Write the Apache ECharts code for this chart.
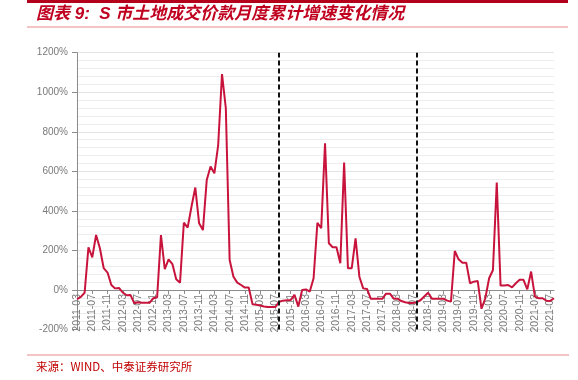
<!DOCTYPE html>
<html>
<head>
<meta charset="utf-8">
<script src="https://cdn.jsdelivr.net/npm/echarts@6/dist/echarts.min.js"></script>
<style>
html, body { margin: 0; padding: 0; background: #fff; }
#chart { width: 578px; height: 380px; }
</style>
</head>
<body>
<div id="chart"></div>
<script>
// 月份：2011-03 ~ 2021-08
let startYear = 2011, startMonth = 3, monthCount = 126;
let months = [];
for (let i = 0; i < monthCount; i++) {
	let m = startMonth - 1 + i;
	let y = startYear + Math.floor(m / 12);
	let mm = (m % 12) + 1;
	months.push(y + '-' + (mm < 10 ? '0' + mm : mm));
}

// 土地成交价款累计同比（%），读图估计
let growth = [
	-47, -35, -14, 216, 165, 278, 211, 110, 88, 25,          // 2011-03 ~ 2011-12
	8, 10, -13, -27, -25, -67, -62, -65, -65, -65, -42, -37, // 2012
	278, 105, 155, 131, 54, 37, 340, 315, 421, 518, 337, 303, // 2013
	556, 624, 590, 733, 1092, 919, 152, 67, 37, 25, 12, 12,   // 2014
	-72, -75, -79, -84, -86, -86, -86, -60, -54, -52, -51, -25, // 2015
	-84, 0, 3, -8, 59, 340, 312, 742, 236, 216, 216, 135,     // 2016
	644, 110, 110, 261, 67, 8, 5, -45, -45, -45, -45, -19,    // 2017
	-19, -44, -44, -56, -62, -66, -66, -62, -52, -33, -14, -44, // 2018
	-44, -44, -44, -54, -59, 197, 155, 138, 138, 34, 42, 46,  // 2019
	-95, -42, 59, 101, 543, 22, 22, 25, 13, 34, 51, 51,       // 2020
	3, 93, -34, -42, -42, -54, -56, -42                       // 2021-01 ~ 2021-08
];

// 虚线标记的月份
let markMonths = ['2015-08', '2018-08'];

let yTicks = { min: -200, max: 1200, step: 200 };

let titleText = '图表 9:  S 市土地成交价款月度累计增速变化情况';
let sourceText = '来源：WIND、中泰证券研究所';

let gridTop = 52.7, gridBottom = 50.5, chartH = 380;
// x轴放在0%处：距离绘图区底部的像素
let zeroOffset = (chartH - gridTop - gridBottom) * (0 - yTicks.min) / (yTicks.max - yTicks.min);

let myChart = echarts.init(document.getElementById('chart'), null, { renderer: 'canvas' });

let option = {
	animation: false,
	backgroundColor: '#fff',
	grid: { left: 77, right: 24, top: gridTop, bottom: gridBottom, containLabel: false },
	graphic: [
		{ type: 'rect', shape: { x: 27, y: 0, width: 541, height: 3 }, style: { fill: '#b3001b' } },
		{ type: 'rect', shape: { x: 27, y: 26.5, width: 541, height: 1 }, style: { fill: '#e58a8a' } },
		{ type: 'rect', shape: { x: 27, y: 354.5, width: 542, height: 1 }, style: { fill: '#e58a8a' } },
		{
			type: 'text', left: 36, top: 6,
			style: {
				text: titleText,
				fill: '#c0001f',
				font: 'italic bold 17px "Liberation Sans", "Noto Sans CJK SC", sans-serif'
			}
		},
		{
			type: 'text', left: 36, top: 361,
			style: {
				text: sourceText,
				fill: '#c00000',
				font: '11.5px "Noto Sans CJK SC", sans-serif'
			}
		}
	],
	xAxis: {
		type: 'category',
		data: months,
		boundaryGap: false,
		offset: -zeroOffset,
		axisLine: { onZero: false, lineStyle: { color: '#8c8c8c', width: 1 } },
		axisTick: { show: true, interval: 3, length: 4, lineStyle: { color: '#8c8c8c' } },
		axisLabel: {
			interval: 3,
			rotate: 90,
			margin: 4,
			color: '#7a7a7a',
			fontSize: 10.5,
			fontFamily: 'Liberation Sans'
		},
		splitLine: { show: false }
	},
	yAxis: {
		type: 'value',
		min: yTicks.min,
		max: yTicks.max,
		interval: yTicks.step,
		axisLine: { show: true, lineStyle: { color: '#8c8c8c', width: 1 } },
		axisTick: { show: true, length: 5, lineStyle: { color: '#8c8c8c' } },
		minorTick: { show: true, splitNumber: 5, length: 0 },
		axisLabel: {
			color: '#7a7a7a',
			fontSize: 10,
			margin: 9,
			fontFamily: 'Liberation Sans',
			formatter: function (value) {
				return value + '%';
			}
		},
		splitLine: { show: true, lineStyle: { color: '#e4e4e4', width: 1 } },
		minorSplitLine: { show: true, lineStyle: { color: '#ededed', width: 1 } }
	},
	series: [{
		type: 'line',
		data: growth,
		showSymbol: false,
		symbol: 'none',
		lineStyle: { color: '#c8143c', width: 2 },
		itemStyle: { color: '#c8143c' },
		markLine: {
			silent: true,
			symbol: ['none', 'none'],
			label: { show: false },
			lineStyle: { color: '#111', width: 2, type: [5, 3] },
			data: markMonths.map(function (m) { return { xAxis: m }; })
		}
	}]
};

myChart.setOption(option);
</script>
</body>
</html>
